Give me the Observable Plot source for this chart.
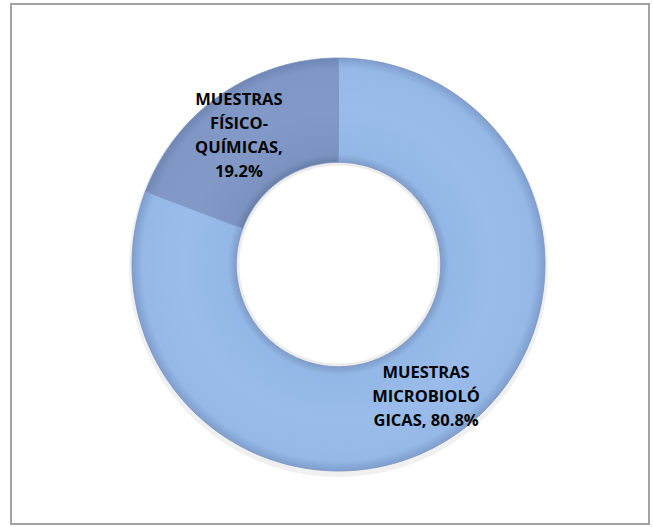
<!DOCTYPE html>
<html>
<head>
<meta charset="utf-8">
<script src="https://cdn.jsdelivr.net/npm/d3@7"></script>
<script src="https://cdn.jsdelivr.net/npm/@observablehq/plot@0.6"></script>
<style>
  html, body { margin: 0; padding: 0; background: #fff; }
  #wrap { position: relative; width: 653px; height: 527px; overflow: hidden; }
  #frame { position: absolute; left: 10px; top: 3px; width: 636px; height: 518px;
           border: 2px solid #a3a3a3; pointer-events: none; }
  #chart svg { display: block; }
</style>
</head>
<body>
<div id="wrap"><div id="chart"></div><div id="frame"></div></div>
<script>
// ---- data ----
const categories = ["MUESTRAS MICROBIOLÓGICAS", "MUESTRAS FÍSICO-QUÍMICAS"];
const values = [80.8, 19.2];
const labels = ["MUESTRAS\nMICROBIOLÓ\nGICAS, 80.8%", "MUESTRAS\nFÍSICO-\nQUÍMICAS,\n19.2%"];
const labelDx = [0, -12];
const labelDy = [3, -4];

// ---- geometry in data units (unit circle) ----
const innerR = 0.495, outerR = 1;
const rows = categories.map((c, i) => ({cat: c, value: values[i], label: labels[i], i}));
const arcs = d3.pie().sort(null).value(d => d.value)(rows);

const N = 260;
const pts = [];
arcs.forEach(a => {
  const n = Math.max(8, Math.round(N * (a.endAngle - a.startAngle) / (2 * Math.PI)));
  for (let k = 0; k <= n; k++) {
    const t = a.startAngle + (a.endAngle - a.startAngle) * k / n;
    pts.push({cat: a.data.cat, x: outerR * Math.sin(t), y: outerR * Math.cos(t)});
  }
  for (let k = n; k >= 0; k--) {
    const t = a.startAngle + (a.endAngle - a.startAngle) * k / n;
    pts.push({cat: a.data.cat, x: innerR * Math.sin(t), y: innerR * Math.cos(t)});
  }
});

const circle = r => d3.range(0, 361, 2).map(d => ({x: r * Math.sin(d * Math.PI / 180), y: r * Math.cos(d * Math.PI / 180)}));

const labelPts = arcs.map(a => {
  const m = (a.startAngle + a.endAngle) / 2, r = (innerR + outerR) / 2;
  return {x: r * Math.sin(m), y: r * Math.cos(m), label: a.data.label, i: a.data.i};
});

const chart = Plot.plot({
  width: 653,
  height: 527,
  marginLeft: 131.5,
  marginRight: 108.5,
  marginTop: 57.5,
  marginBottom: 56.5,
  x: {domain: [-1, 1], axis: null},
  y: {domain: [-1, 1], axis: null},
  color: {domain: categories, range: ["url(#grad0)", "url(#grad1)"]},
  style: {fontFamily: "'Open Sans', sans-serif", background: "transparent"},
  marks: [
    Plot.line(circle(outerR), {x: "x", y: "y", curve: "linear-closed", stroke: "#000", strokeOpacity: 0.06, strokeWidth: 6, dy: 3}),
    Plot.line(pts, {x: "x", y: "y", z: "cat", fill: "cat", stroke: "#7a93c0", strokeWidth: 0.8, curve: "linear-closed"}),
    Plot.line(circle(innerR - 0.008), {x: "x", y: "y", curve: "linear-closed", stroke: "#000", strokeOpacity: 0.08, strokeWidth: 3}),
    Plot.text(labelPts, {
      x: "x", y: "y", text: "label",
      fontSize: 16.5, fontWeight: "bold", fill: "#050505", lineHeight: 1.44
    })
  ]
});

// radial gradients centred on the scales' origin, to mimic the bevelled rim
const sx = chart.scale("x"), sy = chart.scale("y");
const cx = (sx.range[0] + sx.range[1]) / 2, cy = (sy.range[0] + sy.range[1]) / 2;
const R = Math.abs(sx.range[1] - sx.range[0]) / 2;
const stopsFor = [
  [[innerR, "#7e9dcc"], [innerR + 0.04, "#93b7e6"], [0.75, "#99bcea"], [0.95, "#95b8e7"], [1, "#7f9fce"]],
  [[innerR, "#687ea9"], [innerR + 0.04, "#7c93c1"], [0.75, "#8399c7"], [0.95, "#8096c4"], [1, "#6f87b6"]]
];
const ns = "http://www.w3.org/2000/svg";
const defs = document.createElementNS(ns, "defs");
stopsFor.forEach((stops, k) => {
  const g = document.createElementNS(ns, "radialGradient");
  g.setAttribute("id", "grad" + k);
  g.setAttribute("gradientUnits", "userSpaceOnUse");
  g.setAttribute("cx", cx); g.setAttribute("cy", cy); g.setAttribute("r", R);
  stops.forEach(([o, c]) => {
    const s = document.createElementNS(ns, "stop");
    s.setAttribute("offset", o); s.setAttribute("stop-color", c);
    g.appendChild(s);
  });
  defs.appendChild(g);
});
chart.insertBefore(defs, chart.firstChild);

// apply per-label offsets
chart.querySelectorAll("g[aria-label='text'] text").forEach((t, k) => {
  const tr = t.getAttribute("transform") || "";
  t.setAttribute("transform", tr + ` translate(${labelDx[k]},${labelDy[k]})`);
});
document.getElementById("chart").appendChild(chart);
</script>
</body>
</html>
